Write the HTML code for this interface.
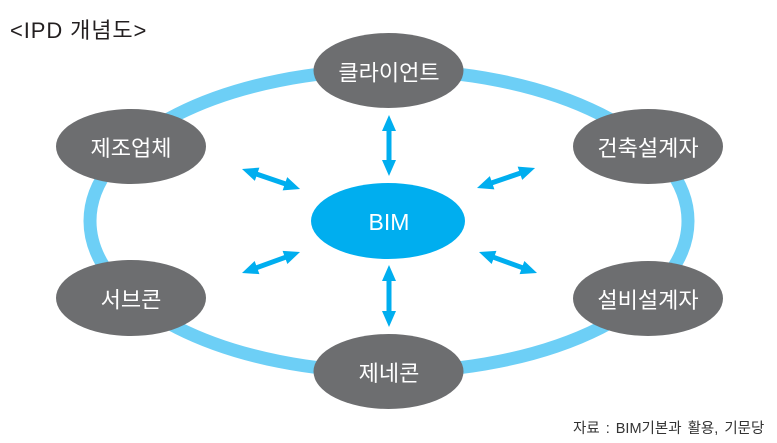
<!DOCTYPE html>
<html>
<head>
<meta charset="utf-8">
<style>
  html, body { margin:0; padding:0; background:#fff; }
  body { width:777px; height:443px; overflow:hidden; }
  svg { display:block; }
  text { font-family: "Liberation Sans", "Noto Sans CJK KR", "NanumGothic", sans-serif; }
</style>
</head>
<body>
<svg width="777" height="443" viewBox="0 0 777 443" xmlns="http://www.w3.org/2000/svg">
  <rect width="777" height="443" fill="#ffffff"/>

  <!-- title -->
  <text x="10" y="38" font-size="22" fill="#231f20" letter-spacing="0.9">&lt;IPD 개념도&gt;</text>

  <!-- ring -->
  <ellipse cx="389" cy="221" rx="299" ry="151" fill="none" stroke="#6dcff6" stroke-width="13"/>

  <!-- arrows -->
  <g fill="#00aeef">
    <polygon transform="translate(389,115) rotate(90)" points="0,0 16,-7 16,-2.5 45,-2.5 45,-7 61,0 45,7 45,2.5 16,2.5 16,7"/>
    <polygon transform="translate(389,265) rotate(90)" points="0,0 16,-7 16,-2.5 46,-2.5 46,-7 62,0 46,7 46,2.5 16,2.5 16,7"/>
    <polygon transform="translate(242,169) rotate(19)" points="0,0 16,-7 16,-2.5 45.4,-2.5 45.4,-7 61.4,0 45.4,7 45.4,2.5 16,2.5 16,7"/>
    <polygon transform="translate(477,188) rotate(-19)" points="0,0 16,-7 16,-2.5 45.4,-2.5 45.4,-7 61.4,0 45.4,7 45.4,2.5 16,2.5 16,7"/>
    <polygon transform="translate(242,273) rotate(-19.9)" points="0,0 16,-7 16,-2.5 45.7,-2.5 45.7,-7 61.7,0 45.7,7 45.7,2.5 16,2.5 16,7"/>
    <polygon transform="translate(479,252) rotate(19.9)" points="0,0 16,-7 16,-2.5 45.7,-2.5 45.7,-7 61.7,0 45.7,7 45.7,2.5 16,2.5 16,7"/>
  </g>

  <!-- nodes -->
  <g fill="#6d6e70">
    <ellipse cx="388.5" cy="70.5" rx="75" ry="37.5"/>
    <ellipse cx="131" cy="146.5" rx="75" ry="37.5"/>
    <ellipse cx="648" cy="146.5" rx="75" ry="37.5"/>
    <ellipse cx="131" cy="298" rx="75" ry="38"/>
    <ellipse cx="648" cy="298.5" rx="75" ry="37.5"/>
    <ellipse cx="388.5" cy="371.5" rx="75" ry="37.5"/>
  </g>
  <ellipse cx="388" cy="221" rx="77" ry="38" fill="#00aeef"/>

  <!-- labels -->
  <g fill="#ffffff" font-size="22" text-anchor="middle">
    <text x="389" y="80.5">클라이언트</text>
    <text x="131" y="156">제조업체</text>
    <text x="648" y="156">건축설계자</text>
    <text x="131" y="307.5">서브콘</text>
    <text x="648" y="308">설비설계자</text>
    <text x="389" y="381">제네콘</text>
  </g>
  <text x="389" y="230" font-size="23" fill="#ffffff" text-anchor="middle">BIM</text>

  <!-- source -->
  <text x="573" y="433" font-size="14.5" fill="#333333" word-spacing="2">자료 : BIM기본과 활용, 기문당</text>
</svg>
</body>
</html>
